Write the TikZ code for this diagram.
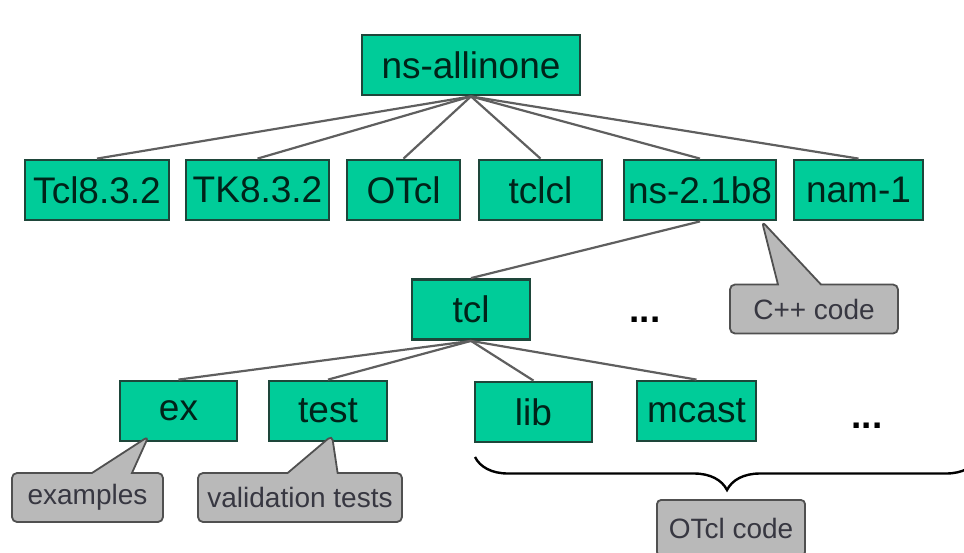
\documentclass[tikz,border=0pt]{standalone}
\usepackage{fontspec}
\setmainfont{Liberation Sans}
\usepackage{tikz}
\usetikzlibrary{positioning,shapes.callouts,decorations.pathreplacing}

\definecolor{boxgreen}{RGB}{0,204,153}
\definecolor{boxedge}{RGB}{30,70,58}
\definecolor{linegray}{RGB}{95,95,95}
\definecolor{notegray}{RGB}{185,185,185}
\definecolor{noteedge}{RGB}{80,80,80}
\definecolor{notetext}{RGB}{55,55,65}
\definecolor{dirtext}{RGB}{0,35,25}

\begin{document}
\begin{tikzpicture}[
    x=0.5pt, y=-0.5pt,
    dir/.style={draw=boxedge, fill=boxgreen, line width=1.4pt, minimum height=30pt,
                inner sep=0pt, text=dirtext, font=\fontsize{18.5}{20}\selectfont},
    note/.style={rectangle callout, draw=noteedge, fill=notegray, line width=0.9pt,
                 rounded corners=2.5pt, minimum height=24.5pt, inner sep=0pt,
                 text=notetext, font=\fontsize{14}{16}\selectfont},
    tag/.style={draw=noteedge, fill=notegray, line width=0.9pt, rounded corners=2pt,
                minimum height=28pt, inner sep=0pt, text=notetext,
                font=\fontsize{14}{16}\selectfont},
    link/.style={draw=linegray, line width=1.1pt},
    more/.style={font=\bfseries\fontsize{18.5}{20}\selectfont},
    codebrace/.style={decorate, decoration={brace, mirror, amplitude=16.5pt},
                      line width=1.2pt}
]
    \useasboundingbox (0,0) rectangle (964,552);

    % top level
    \node[dir, minimum width=109pt] (allinone) at (471,65) {ns-allinone};

    % packages
    \node[dir, minimum width=72pt]   (tclpkg) at (97,190)    {Tcl8.3.2};
    \node[dir, minimum width=71.5pt] (tkpkg)  at (257.5,190) {TK8.3.2};
    \node[dir, minimum width=56.5pt] (otcl)   at (403.5,190) {OTcl};
    \node[dir, minimum width=61.5pt] (tclcl)  at (540.5,190) {tclcl};
    \node[dir, minimum width=76pt]   (ns)     at (700,190)   {ns-2.1b8};
    \node[dir, minimum width=64.5pt] (nam)    at (858.5,190) {nam-1};

    % inside ns
    \node[dir, minimum width=59pt] (tcl) at (471,309.5) {tcl};
    \node[more] (dotsmid) at (645,320) {...};

    \node[dir, minimum width=58.5pt] (ex)    at (178.5,411) {ex};
    \node[dir, minimum width=59pt]   (test)  at (328,411)   {test};
    \node[dir, minimum width=58.5pt] (lib)   at (533.5,412) {lib};
    \node[dir, minimum width=59.5pt] (mcast) at (696.5,411) {mcast};
    \node[more] (dotsend) at (867,426) {...};

    % notes
    \node[note, minimum width=84pt, callout pointer width=21.5pt,
          callout absolute pointer={([xshift=31pt]ns.south)}] (cpp) at (814,309) {C++ code};
    \node[note, minimum width=75.5pt, callout pointer width=20pt,
          callout absolute pointer={([xshift=-15pt,yshift=3pt]ex.south)}] (examples) at (87.5,497.5) {examples};
    \node[note, minimum width=102pt, callout pointer width=25pt,
          callout absolute pointer={([xshift=2pt,yshift=3.5pt]test.south)}] (validation) at (300,497.5) {validation tests};

    \coordinate (bl) at (475,457);
    \coordinate (br) at (979,457);
    \draw[codebrace] (bl) -- (br);
    \node[tag, minimum width=74pt] (otclcode) at (731,528) {OTcl code};

    \foreach \pkg in {tclpkg,tkpkg,otcl,tclcl,ns,nam}
        \draw[link] (allinone.south) -- (\pkg.north);
    \draw[link] (ns.south) -- (tcl.north);
    \foreach \sub in {ex,test,lib,mcast}
        \draw[link] (tcl.south) -- (\sub.north);
\end{tikzpicture}
\end{document}
